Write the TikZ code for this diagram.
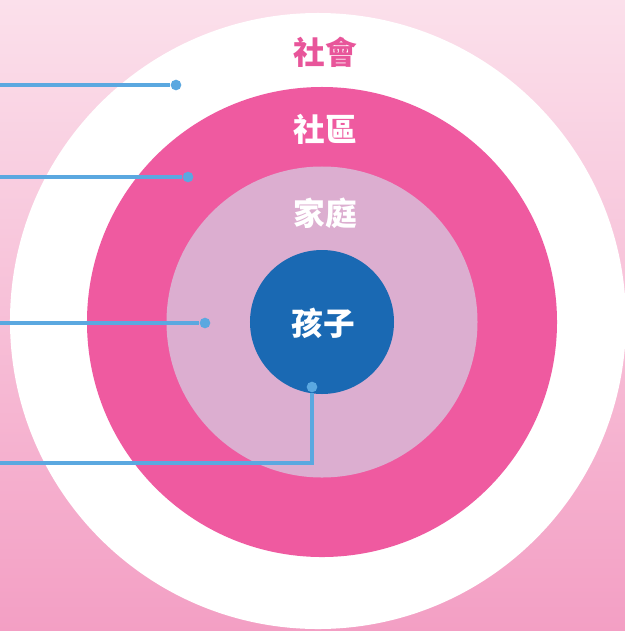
\documentclass[tikz,border=0pt]{standalone}
\usepackage{fontspec}
\newfontfamily\cjk{Noto Sans CJK TC}
\usetikzlibrary{positioning}
\definecolor{bgtop}{HTML}{FBE0EB}
\definecolor{bgbot}{HTML}{F39FC4}
\definecolor{ringpink}{HTML}{EF5AA0}
\definecolor{ringlilac}{HTML}{DCAED0}
\definecolor{coreblue}{HTML}{1A69B3}
\definecolor{leadblue}{HTML}{5BA8E0}
\definecolor{textpink}{HTML}{E8559A}
\begin{document}
\begin{tikzpicture}[x=0.03cm, y=-0.03cm,
  ring/.style={circle, inner sep=0pt},
  lbl/.style={font=\cjk\bfseries\fontsize{27}{27}\selectfont, text=white},
  pin/.style={circle, fill=leadblue, inner sep=0pt, minimum size=0.32cm},
  lead/.style={leadblue, line width=3pt}]
\useasboundingbox (0,0) rectangle (625,631);
\clip (0,0) rectangle (625,631);
\shade[top color=bgtop, bottom color=bgbot] (0,0) rectangle (625,631);
% rings
\node[ring, fill=white, minimum size=18.48cm] (society) at (318,321) {};
\node[ring, fill=ringpink, minimum size=14.1cm] (community) at (322,322) {};
\node[ring, fill=ringlilac, minimum size=9.33cm] (family) at (322,322) {};
\node[ring, fill=coreblue, minimum size=4.32cm] (child) at (322,322) {};
% labels
\node[lbl, text=textpink] (societylbl) at (325,52) {社會};
\node[lbl] (communitylbl) at (325,129) {社區};
\node[lbl] (familylbl) at (325,213) {家庭};
\node[lbl] (childlbl) at (323,323) {孩子};
% leaders
\coordinate (s0) at (0,85);
\coordinate (c0) at (0,177);
\coordinate (f0) at (0,323);
\coordinate (k0) at (0,463);
\node[pin] (spin) at (176,85) {};
\node[pin] (cpin) at (188,177) {};
\node[pin] (fpin) at (205,323) {};
\node[pin] (kpin) at (312,387) {};
\draw[lead] (s0) -- (spin);
\draw[lead] (c0) -- (cpin);
\draw[lead] (f0) -- (fpin);
\draw[lead] (k0) -| (kpin);
\end{tikzpicture}
\end{document}
